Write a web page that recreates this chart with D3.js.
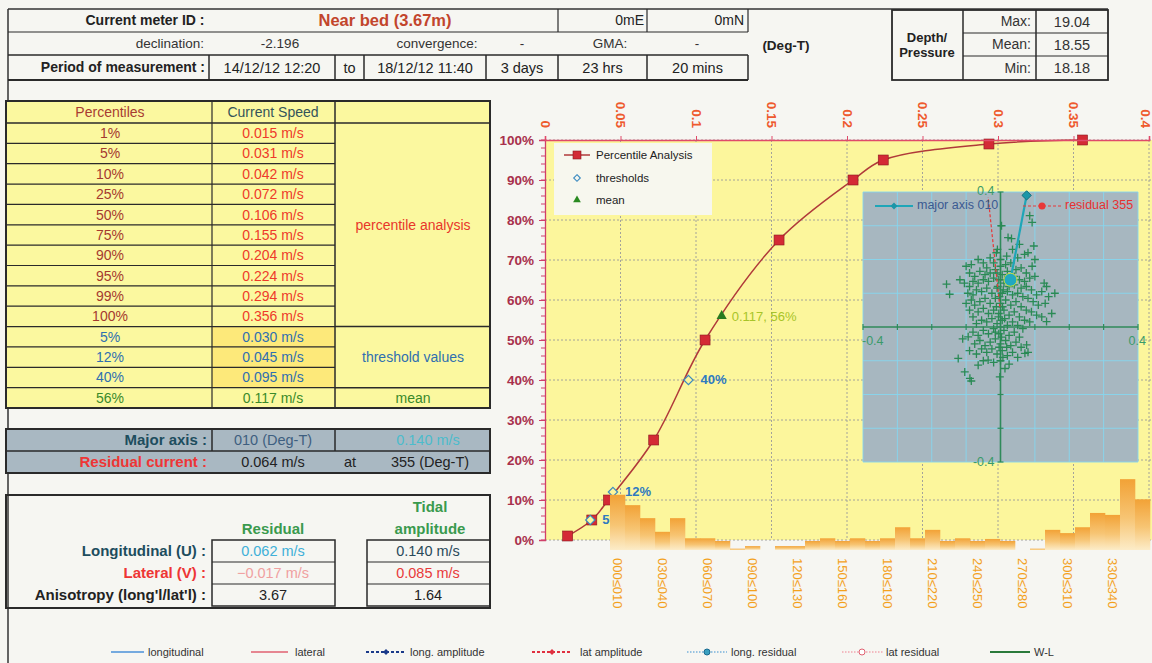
<!DOCTYPE html>
<html>
<head>
<meta charset="utf-8">
<script src="https://cdn.jsdelivr.net/npm/d3@7"></script>
<style>
  body { margin: 0; background: #f6f6f2; }
  svg { display: block; }
  text { font-family: "Liberation Sans", Arial, Helvetica, sans-serif; }
</style>
</head>
<body>
<svg id="c" width="1152" height="663"></svg>
<script>
// ---------------- data ----------------
const meterId = "Near bed (3.67m)";
const positionCells = ["0mE", "0mN"];
const declination = "-2.196";
const periodCells = ["14/12/12 12:20", "to", "18/12/12 11:40", "3 days", "23 hrs", "20 mins"];
const depthLabels = ["Max:", "Mean:", "Min:"];
const depthValues = [19.04, 18.55, 18.18];

const percentiles = [1, 5, 10, 25, 50, 75, 90, 95, 99, 100];
const percentileSpeeds = [0.015, 0.031, 0.042, 0.072, 0.106, 0.155, 0.204, 0.224, 0.294, 0.356];
const thresholdPct = [5, 12, 40];
const thresholdSpeeds = [0.030, 0.045, 0.095];
const meanPct = [56];
const meanSpeed = [0.117];

const majorAxisDir = "010";
const majorAxisAmp = 0.140;
const residualSpeed = 0.064;
const residualDir = "355";
const residualUV = [0.062, -0.017];
const tidalUV = [0.140, 0.085];
const anisotropy = [3.67, 1.64];

const speedTicks = [0, 0.05, 0.1, 0.15, 0.2, 0.25, 0.3, 0.35, 0.4];
const pctTicks = [0, 10, 20, 30, 40, 50, 60, 70, 80, 90, 100];

// share of records per 10-degree direction sector (%)
const directionShare = [8.5, 6.9, 4.9, 2.8, 4.9, 1.8, 1.8, 1.4, 0.2, 0.6, 0, 0.6,
                        0.6, 1.4, 1.8, 1.4, 1.8, 1.4, 1.8, 3.5, 1.8, 3.1, 1.4, 1.8,
                        1.4, 1.7, 1.4, 0, 0.2, 3.1, 2.6, 3.5, 5.7, 5.4, 10.9, 7.8];
const directionLabels = ["000\u2264010", "030\u2264040", "060\u2264070", "090\u2264100", "120\u2264130", "150\u2264160",
                         "180\u2264190", "210\u2264220", "240\u2264250", "270\u2264280", "300\u2264310", "330\u2264340"];

// east / north velocity components (m/s)
const scatterUV = [
  [0.085,0.33],[0.092,0.31],[0.003,0.30],[0.022,0.265],[0.032,0.262],[-0.009,0.23],[-0.012,0.22],[0.097,0.24],
  [0.08,0.22],[0.07,0.215],[0.10,0.20],[0.05,0.205],[0.035,0.23],[0.055,0.245],[0.018,0.21],[-0.03,0.205],[0.092,0.18],
  [-0.1,0.18],[-0.085,0.185],[-0.065,0.2],[-0.05,0.19],[-0.04,0.175],[-0.02,0.19],[0.0,0.18],[0.015,0.185],[0.03,0.19],
  [0.045,0.17],[0.06,0.175],[0.075,0.16],[0.10,0.15],[-0.118,0.14],[-0.157,0.127],[-0.148,0.097],[-0.09,0.16],
  [-0.075,0.15],[-0.06,0.165],[-0.045,0.155],[-0.03,0.16],[-0.015,0.17],[0.005,0.155],[0.02,0.165],[0.04,0.15],
  [0.055,0.14],[0.07,0.135],[0.085,0.145],[0.127,0.13],[0.134,0.12],[0.12,0.105],[0.158,0.10],[0.14,0.09],
  [-0.105,0.13],[-0.09,0.12],[-0.08,0.135],[-0.065,0.13],[-0.05,0.14],[-0.035,0.135],[-0.02,0.145],[-0.005,0.14],
  [0.01,0.13],[0.025,0.12],[0.04,0.125],[0.06,0.115],[0.075,0.12],[0.09,0.11],[0.105,0.095],[-0.095,0.1],
  [-0.08,0.095],[-0.07,0.11],[-0.055,0.105],[-0.04,0.115],[-0.025,0.1],[-0.01,0.115],[0.005,0.1],[0.02,0.105],
  [0.035,0.095],[0.05,0.1],[0.065,0.09],[0.08,0.085],[0.095,0.075],[0.11,0.065],[0.13,0.07],[0.149,0.04],[0.134,0.016],
  [-0.1,0.07],[-0.085,0.08],[-0.09,0.05],[-0.075,0.065],[-0.06,0.075],[-0.045,0.085],[-0.03,0.07],[-0.015,0.085],
  [0.0,0.07],[0.015,0.08],[0.03,0.065],[0.045,0.075],[0.06,0.06],[0.075,0.05],[0.09,0.045],[0.105,0.035],[0.12,0.03],
  [-0.08,0.03],[-0.065,0.045],[-0.05,0.055],[-0.035,0.04],[-0.02,0.05],[-0.005,0.04],[0.01,0.05],[0.025,0.035],
  [0.04,0.045],[0.055,0.03],[0.07,0.02],[0.085,0.015],[-0.07,0.01],[-0.055,0.02],[-0.04,0.015],[-0.025,0.025],
  [-0.01,0.01],[0.005,0.02],[0.02,0.005],[0.035,0.015],[0.05,0.005],[0.065,-0.005],
  [-0.094,-0.029],[-0.11,-0.035],[-0.08,-0.015],[-0.065,-0.025],[-0.05,-0.01],[-0.035,-0.02],[-0.02,-0.005],
  [-0.005,-0.02],[0.01,-0.01],[0.025,-0.025],[0.04,-0.015],[0.055,-0.03],[0.076,-0.053],[-0.075,-0.05],[-0.06,-0.04],
  [-0.045,-0.055],[-0.03,-0.045],[-0.015,-0.035],[0.0,-0.05],[0.015,-0.04],[0.03,-0.055],[0.045,-0.045],[0.06,-0.06],
  [0.071,-0.078],[0.08,-0.075],[-0.123,-0.093],[-0.09,-0.07],[-0.07,-0.08],[-0.055,-0.065],[-0.04,-0.075],
  [-0.025,-0.065],[-0.01,-0.08],[0.005,-0.07],[0.02,-0.085],[0.035,-0.075],[0.05,-0.09],[-0.065,-0.113],
  [-0.036,-0.098],[-0.02,-0.105],[0.0,-0.1],[0.013,-0.123],[-0.104,-0.133],[-0.089,-0.152],[-0.085,-0.16],
  [-0.002,-0.148],[-0.05,-0.1],[0.025,-0.11],
  [-0.008,0.12],[0.008,0.11],[-0.003,0.09],[0.006,0.06],[-0.006,0.03],[0.003,-0.03],[-0.004,-0.06],[0.007,-0.09],
  [0.0,0.2],[-0.01,0.16],[0.012,0.14],[-0.012,0.06],[0.012,0.025],[-0.015,-0.015],[0.018,-0.06]
];
const majorAxisLine = [[0.029, 0.14], [0.076, 0.39]];
const residualLine = [[-0.002, 0.06], [-0.036, 0.385]];

// ---------------- helpers ----------------
const svg = d3.select("#c");
const fmt3 = d3.format(".3f");
const ms = v => fmt3(v) + " m/s";

function txt(g, x, y, s, o = {}) {
  return g.append("text").attr("x", x).attr("y", y).attr("dy", "0.35em")
    .attr("text-anchor", o.anchor || "middle")
    .attr("font-size", o.size || 14)
    .attr("font-weight", o.bold ? "bold" : "normal")
    .attr("fill", o.color || "#222").text(s);
}
function box(g, x, y, w, h, fill, stroke, sw) {
  return g.append("rect").attr("x", x).attr("y", y).attr("width", w).attr("height", h)
    .attr("fill", fill || "none").attr("stroke", stroke || "none").attr("stroke-width", sw || 1);
}
function ln(g, x1, y1, x2, y2, stroke, sw, dash) {
  const l = g.append("line").attr("x1", x1).attr("y1", y1).attr("x2", x2).attr("y2", y2)
    .attr("stroke", stroke || "#222").attr("stroke-width", sw || 1.2);
  if (dash) l.attr("stroke-dasharray", dash);
  return l;
}
const diamond = s => d3.symbol(d3.symbolDiamond2, s)();

const defs = svg.append("defs");
const grad = defs.append("linearGradient").attr("id", "barGrad")
  .attr("x1", 0).attr("y1", 0).attr("x2", 0).attr("y2", 1);
grad.append("stop").attr("offset", "0%").attr("stop-color", "#f2a236");
grad.append("stop").attr("offset", "55%").attr("stop-color", "#f7c574");
grad.append("stop").attr("offset", "100%").attr("stop-color", "#fcecc8");

// ---------------- frame ----------------
const frame = svg.append("g");
ln(frame, 8, 9, 1108, 9, "#333", 1.5);
ln(frame, 8, 9, 8, 663, "#333", 1.5);

// ---------------- header table ----------------
const hdr = svg.append("g");
const B = "#2a2a2a";
ln(hdr, 8, 32, 748, 32, B, 1.2);
ln(hdr, 8, 55, 748, 55, B, 1.5);
ln(hdr, 8, 80, 748, 80, B, 2);
[558, 647, 748].forEach(x => ln(hdr, x, 9, x, 32, B, 1.2));
[209, 335, 364, 486, 558, 647, 748].forEach(x => ln(hdr, x, 55, x, 80, B, 1.5));

txt(hdr, 145, 20.5, "Current meter ID :", { bold: true });
txt(hdr, 385, 20.5, meterId, { bold: true, size: 16.5, color: "#c2452c" });
txt(hdr, 644, 20.5, positionCells[0], { anchor: "end" });
txt(hdr, 744, 20.5, positionCells[1], { anchor: "end" });

txt(hdr, 204, 43.5, "declination:", { anchor: "end", size: 13.5, color: "#333" });
txt(hdr, 280, 43.5, declination, { size: 13.5, color: "#333" });
txt(hdr, 437, 43.5, "convergence:", { size: 13.5, color: "#333" });
txt(hdr, 522, 43.5, "-", { size: 13.5, color: "#333" });
txt(hdr, 610, 43.5, "GMA:", { size: 13.5, color: "#333" });
txt(hdr, 697, 43.5, "-", { size: 13.5, color: "#333" });
txt(hdr, 786, 45, "(Deg-T)", { bold: true, size: 13.5 });

txt(hdr, 205, 67.5, "Period of measurement :", { anchor: "end", bold: true });
const periodEdges = [209, 335, 364, 486, 558, 647, 748];
periodCells.forEach((s, i) => txt(hdr, (periodEdges[i] + periodEdges[i + 1]) / 2, 67.5, s, { size: 14.5 }));

// depth / pressure box
const dep = svg.append("g");
box(dep, 892, 10, 216, 70, "none", B, 1.8);
ln(dep, 963, 10, 963, 80, B, 1.5);
ln(dep, 1036, 10, 1036, 80, B, 1.5);
ln(dep, 963, 33, 1108, 33, B, 1.2);
ln(dep, 963, 56, 1108, 56, B, 1.2);
txt(dep, 927, 37, "Depth/", { bold: true, size: 13 });
txt(dep, 927, 52, "Pressure", { bold: true, size: 13 });
depthLabels.forEach((s, i) => {
  const cy = [21.5, 44.5, 68][i];
  txt(dep, 1031, cy, s, { anchor: "end", size: 14, color: "#333" });
  txt(dep, 1072, cy, d3.format(".2f")(depthValues[i]), { size: 14.5, color: "#333" });
});

// ---------------- percentile table ----------------
const tab = svg.append("g");
const tx0 = 6, tc1 = 212, tc2 = 335, tx3 = 490, ttop = 101, thead = 123, rowH = (408 - 123) / 14;
const YEL = "#fbf89f", YEL2 = "#fde97a";
box(tab, tx0, ttop, tx3 - tx0, 408 - ttop, YEL);
const rowsAll = [];
percentiles.forEach((p, i) => rowsAll.push({ pct: p + "%", val: ms(percentileSpeeds[i]), kind: "p" }));
thresholdPct.forEach((p, i) => rowsAll.push({ pct: p + "%", val: ms(thresholdSpeeds[i]), kind: "t" }));
meanPct.forEach((p, i) => rowsAll.push({ pct: p + "%", val: ms(meanSpeed[i]), kind: "m" }));
rowsAll.forEach((r, i) => {
  const y0 = thead + i * rowH;
  if (r.kind === "t") box(tab, tc1, y0, tc2 - tc1, rowH, YEL2);
});
ln(tab, tx0, thead, tx3, thead, B, 1.5);
rowsAll.forEach((r, i) => { if (i > 0) ln(tab, tx0, thead + i * rowH, tc2, thead + i * rowH, B, 1.2); });
[10, 13].forEach(i => ln(tab, tc2, thead + i * rowH, tx3, thead + i * rowH, B, 1.5));
ln(tab, tc1, ttop, tc1, 408, B, 1.2);
ln(tab, tc2, ttop, tc2, 408, B, 1.5);
box(tab, tx0, ttop, tx3 - tx0, 408 - ttop, "none", B, 2);

txt(tab, 110, 112, "Percentiles", { color: "#a83c32" });
txt(tab, 273, 112, "Current Speed", { color: "#34545a" });
const kindColor = { p: ["#a53a2f", "#ee3a2a"], t: ["#2f6fb0", "#2f6fb0"], m: ["#3a8a2a", "#3a8a2a"] };
rowsAll.forEach((r, i) => {
  const cy = thead + (i + 0.5) * rowH;
  txt(tab, 110, cy, r.pct, { color: kindColor[r.kind][0] });
  txt(tab, 273, cy, r.val, { color: kindColor[r.kind][1] });
});
txt(tab, 413, thead + 5 * rowH, "percentile analysis", { color: "#e8362a" });
txt(tab, 413, thead + 11.5 * rowH, "threshold values", { color: "#2f6fb0" });
txt(tab, 413, thead + 13.5 * rowH, "mean", { color: "#3a8a2a" });

// ---------------- major axis / residual block ----------------
const mab = svg.append("g");
box(mab, 6, 429, 484, 44, "#a9b8c2");
ln(mab, 6, 451, 490, 451, B, 1.5);
ln(mab, 212, 429, 212, 451, B, 1.5);
ln(mab, 335, 429, 335, 451, B, 1.5);
box(mab, 6, 429, 484, 44, "none", B, 2);
txt(mab, 207, 440, "Major axis :", { anchor: "end", bold: true, size: 15, color: "#1d4d5e" });
txt(mab, 273, 440, majorAxisDir + " (Deg-T)", { size: 14.5, color: "#3e5f80" });
txt(mab, 428, 440, ms(majorAxisAmp), { size: 14.5, color: "#4cbccc" });
txt(mab, 207, 462, "Residual current :", { anchor: "end", bold: true, size: 15, color: "#ee3535" });
txt(mab, 273, 462, ms(residualSpeed), { size: 14.5 });
txt(mab, 350, 462, "at", { size: 14.5 });
txt(mab, 430, 462, residualDir + " (Deg-T)", { size: 14.5 });

// ---------------- residual / tidal table ----------------
const rt = svg.append("g");
box(rt, 6, 495, 484, 113, "none", B, 2);
const rtRows = [540, 562, 584, 606];
box(rt, 212, 540, 123, 66, "none", B, 1.5);
box(rt, 367, 540, 123, 66, "none", B, 1.5);
[562, 584].forEach(y => { ln(rt, 212, y, 335, y, B, 1.2); ln(rt, 367, y, 490, y, B, 1.2); });
txt(rt, 273, 529, "Residual", { bold: true, size: 15, color: "#3a9a4e" });
txt(rt, 430, 507, "Tidal", { bold: true, size: 15, color: "#3a9a4e" });
txt(rt, 430, 529, "amplitude", { bold: true, size: 15, color: "#3a9a4e" });
const rtLabels = [["Longitudinal (U) :", "#1d4d5e"], ["Lateral (V) :", "#ee3535"], ["Anisotropy (long'l/lat'l) :", "#222"]];
const resCells = [[ms(residualUV[0]), "#40b0d8"], [ms(residualUV[1]), "#f0a0a0"], [d3.format(".2f")(anisotropy[0]), "#222"]];
const tidCells = [[ms(tidalUV[0]), "#2a4a5a"], [ms(tidalUV[1]), "#e83a3a"], [d3.format(".2f")(anisotropy[1]), "#222"]];
rtLabels.forEach((l, i) => {
  const cy = (rtRows[i] + rtRows[i + 1]) / 2;
  txt(rt, 206, cy, l[0], { anchor: "end", bold: true, size: 15, color: l[1] });
  txt(rt, 273, cy, resCells[i][0], { size: 14.5, color: resCells[i][1] });
  txt(rt, 428, cy, tidCells[i][0], { size: 14.5, color: tidCells[i][1] });
});

// ---------------- cumulative speed chart ----------------
const x = d3.scaleLinear().domain([0, 0.4]).range([545, 1149]);
const y = d3.scaleLinear().domain([0, 100]).range([540, 140]);
const ch = svg.append("g");
box(ch, 545, 140, 607, 400, "#fcf69c");

// grid
const grid = ch.append("g").attr("stroke", "#9a9a9a").attr("stroke-width", 0.9).attr("stroke-dasharray", "2,2");
pctTicks.forEach(p => grid.append("line").attr("x1", 545).attr("x2", 1152).attr("y1", y(p)).attr("y2", y(p)));
speedTicks.slice(1).forEach(s => grid.append("line").attr("x1", x(s)).attr("x2", x(s)).attr("y1", 140).attr("y2", 540));

// legend box
const lg = ch.append("g");
box(lg, 554, 143, 158, 72, "#f7f7ee");
ln(lg, 564, 155, 590, 155, "#b03a3a", 1.5);
lg.append("rect").attr("x", 573).attr("y", 151).attr("width", 8).attr("height", 8).attr("fill", "#d22a35").attr("stroke", "#8a1a20").attr("stroke-width", 0.6);
txt(lg, 596, 155, "Percentile Analysis", { anchor: "start", size: 11.5, color: "#222" });
lg.append("path").attr("d", diamond(28)).attr("transform", "translate(577,178)")
  .attr("fill", "none").attr("stroke", "#3a8ac0").attr("stroke-width", 1.1);
txt(lg, 596, 178, "thresholds", { anchor: "start", size: 11.5, color: "#222" });
lg.append("path").attr("d", d3.symbol(d3.symbolTriangle, 26)()).attr("transform", "translate(577,200)").attr("fill", "#2a8a20");
txt(lg, 596, 200, "mean", { anchor: "start", size: 11.5, color: "#222" });

// percentile curve
const pts = percentileSpeeds.map((s, i) => [s, percentiles[i]]);
ch.append("path").datum(pts)
  .attr("d", d3.line().x(d => x(d[0])).y(d => y(d[1])).curve(d3.curveCatmullRom.alpha(0.5)))
  .attr("fill", "none").attr("stroke", "#b03a3a").attr("stroke-width", 1.5);
ch.selectAll(".pm").data(pts).join("rect").attr("class", "pm")
  .attr("x", d => x(d[0]) - 5).attr("y", d => y(d[1]) - 5).attr("width", 10).attr("height", 10)
  .attr("fill", "#d42a35").attr("stroke", "#8a1a20").attr("stroke-width", 0.6);

// thresholds
thresholdSpeeds.forEach((s, i) => {
  ch.append("path").attr("d", diamond(55))
    .attr("transform", `translate(${x(s)},${y(thresholdPct[i])})`)
    .attr("fill", "#fcf69c").attr("stroke", "#3a8ac0").attr("stroke-width", 1.2);
  txt(ch, x(s) + 12, y(thresholdPct[i]) - 1, thresholdPct[i] + "%", { anchor: "start", bold: true, size: 13, color: "#2f7ac0" });
});
// mean
meanSpeed.forEach((s, i) => {
  ch.append("path").attr("d", d3.symbol(d3.symbolTriangle, 45)())
    .attr("transform", `translate(${x(s)},${y(meanPct[i])})`).attr("fill", "#2a7a20");
  txt(ch, x(s) + 10, y(meanPct[i]), s + ", " + meanPct[i] + "%", { anchor: "start", size: 13, color: "#a8c428" });
});

// ---------------- current scatter inset ----------------
const ix = d3.scaleLinear().domain([-0.4, 0.4]).range([863, 1138]);
const iy = d3.scaleLinear().domain([-0.4, 0.4]).range([462, 192]);
const ins = ch.append("g");
box(ins, 863, 192, 275, 270, "#a7b7c0");
const iticks = d3.range(-0.4, 0.401, 0.1);
const ig = ins.append("g").attr("stroke", "#86d6ee").attr("stroke-width", 0.9);
iticks.forEach(t => {
  if (Math.abs(t) < 1e-9) return;
  ig.append("line").attr("x1", ix(t)).attr("x2", ix(t)).attr("y1", 192).attr("y2", 462);
  ig.append("line").attr("y1", iy(t)).attr("y2", iy(t)).attr("x1", 863).attr("x2", 1138);
});
const AX = "#2f8a5a";
ln(ins, ix(-0.4), iy(0), ix(0.4), iy(0), AX, 1.6);
ln(ins, ix(0), iy(-0.4), ix(0), iy(0.4), AX, 1.6);
iticks.forEach(t => {
  ln(ins, ix(t), iy(0) - 3, ix(t), iy(0) + 3, AX, 1.2);
  ln(ins, ix(0) - 3, iy(t), ix(0) + 3, iy(t), AX, 1.2);
});
ins.selectAll(".sp").data(scatterUV).join("path").attr("class", "sp")
  .attr("d", "M-4,0H4M0,-4V4")
  .attr("transform", d => `translate(${ix(d[0])},${iy(d[1])})`)
  .attr("stroke", "#2a8a55").attr("stroke-width", 1.3).attr("fill", "none");
// residual direction
ins.append("path").datum(residualLine)
  .attr("d", d3.line().x(d => ix(d[0])).y(d => iy(d[1])))
  .attr("stroke", "#e83838").attr("stroke-width", 1.2).attr("stroke-dasharray", "3,2").attr("fill", "none");
// major axis
ins.append("path").datum(majorAxisLine)
  .attr("d", d3.line().x(d => ix(d[0])).y(d => iy(d[1])))
  .attr("stroke", "#1ea6b8").attr("stroke-width", 2.2).attr("fill", "none");
ins.append("circle").attr("cx", ix(majorAxisLine[0][0])).attr("cy", iy(majorAxisLine[0][1])).attr("r", 6.5)
  .attr("fill", "#22a8c0").attr("stroke", "#c8e040").attr("stroke-width", 1);
ins.append("path").attr("d", diamond(55))
  .attr("transform", `translate(${ix(majorAxisLine[1][0])},${iy(majorAxisLine[1][1])})`)
  .attr("fill", "#1a96a8").attr("stroke", "#14707e").attr("stroke-width", 1);
// inset legend
ln(ins, 875, 206, 913, 206, "#1ea6b8", 2);
ins.append("path").attr("d", diamond(30)).attr("transform", "translate(894,206)").attr("fill", "#1a96a8");
txt(ins, 917, 205, "major axis " + majorAxisDir, { anchor: "start", size: 12.5, color: "#3a5a92" });
ln(ins, 1023, 206, 1062, 206, "#e83838", 1.2, "3,2");
ins.append("circle").attr("cx", 1042).attr("cy", 206).attr("r", 3.5).attr("fill", "#e83838");
txt(ins, 1065, 205, "residual " + residualDir, { anchor: "start", size: 12.5, color: "#e83030" });
// inset axis labels
txt(ins, ix(0) - 6, 191, "0.4", { anchor: "end", size: 12.5, color: "#3a9a6a" });
txt(ins, 862, iy(0) + 14, "-0.4", { anchor: "start", size: 12.5, color: "#3a9a6a" });
txt(ins, 1146, iy(0) + 14, "0.4", { anchor: "end", size: 12.5, color: "#3a9a6a" });
txt(ins, ix(0) - 6, 462, "-0.4", { anchor: "end", size: 12.5, color: "#3a9a6a" });

// ---------------- direction histogram ----------------
const xb = d3.scaleBand().domain(d3.range(36)).range([610, 1150]);
const yb = d3.scaleLinear().domain([0, 12]).range([550, 472]);
ch.selectAll(".db").data(directionShare).join("rect").attr("class", "db")
  .attr("x", (d, i) => xb(i)).attr("width", xb.bandwidth() + 0.3)
  .attr("y", d => yb(d)).attr("height", d => yb(0) - yb(d))
  .attr("fill", "url(#barGrad)");
directionLabels.forEach((s, k) => {
  const cx = xb(k * 3) + xb.bandwidth() / 2;
  ch.append("text").attr("transform", `translate(${cx},558) rotate(90)`)
    .attr("dy", "0.35em").attr("text-anchor", "start").attr("font-size", 13)
    .attr("fill", "#f3a11d").text(s);
});

// ---------------- axes ----------------
const yAxis = d3.axisLeft(y).tickValues(pctTicks).tickFormat(d => d + "%").tickSize(6).tickPadding(5);
const ya = ch.append("g").attr("transform", "translate(545,0)").call(yAxis);
ya.select(".domain").attr("stroke", "#d0406a").attr("stroke-width", 1.3);
ya.selectAll(".tick line").attr("stroke", "#d0406a");
ya.selectAll(".tick text").attr("fill", "#a8304c").attr("font-weight", "bold").attr("font-size", 13.5)
  .attr("font-family", '"Liberation Sans", Arial, sans-serif');
d3.range(0, 101, 2).forEach(p => ln(ch, 541, y(p), 545, y(p), "#d0406a", 1));

const xAxis = d3.axisTop(x).tickValues(speedTicks).tickFormat(d => String(d)).tickSize(4);
const xa = ch.append("g").attr("transform", "translate(0,140)").call(xAxis);
xa.select(".domain").attr("stroke", "#e04a6a").attr("stroke-width", 1.6);
xa.selectAll(".tick line").attr("stroke", "#e04a6a");
xa.selectAll(".tick text").attr("x", 0).attr("y", 0).attr("dy", "0.35em")
  .attr("transform", d => `translate(${d === 0.4 ? -4 : 0},-12) rotate(90)`).attr("text-anchor", "end")
  .attr("fill", "#ee5a2e").attr("font-weight", "bold").attr("font-size", 13.5)
  .attr("font-family", '"Liberation Sans", Arial, sans-serif');

// ---------------- bottom legend ----------------
const bl = svg.append("g");
const LY = 652;
ln(bl, 111, LY, 144, LY, "#4a90d9", 1.5);
txt(bl, 148, LY, "longitudinal", { anchor: "start", size: 11, color: "#333" });
ln(bl, 251, LY, 288, LY, "#e06070", 1.5);
txt(bl, 295, LY, "lateral", { anchor: "start", size: 11, color: "#333" });
ln(bl, 366, LY, 406, LY, "#1a3a8a", 1.8, "3,2");
bl.append("path").attr("d", diamond(22)).attr("transform", `translate(386,${LY})`).attr("fill", "#1a3a8a");
txt(bl, 410, LY, "long. amplitude", { anchor: "start", size: 11, color: "#333" });
ln(bl, 532, LY, 572, LY, "#e03040", 1.8, "3,2");
bl.append("path").attr("d", diamond(22)).attr("transform", `translate(552,${LY})`).attr("fill", "#e03040");
txt(bl, 580, LY, "lat amplitude", { anchor: "start", size: 11, color: "#333" });
ln(bl, 687, LY, 727, LY, "#3a90d0", 1.2, "1.5,1.5");
bl.append("circle").attr("cx", 707).attr("cy", LY).attr("r", 3).attr("fill", "#3aa0c0").attr("stroke", "#1a6a90");
txt(bl, 731, LY, "long. residual", { anchor: "start", size: 11, color: "#333" });
ln(bl, 842, LY, 883, LY, "#f08090", 1.2, "1.5,1.5");
bl.append("circle").attr("cx", 862).attr("cy", LY).attr("r", 3).attr("fill", "#fff").attr("stroke", "#e06070");
txt(bl, 886, LY, "lat residual", { anchor: "start", size: 11, color: "#333" });
ln(bl, 990, LY, 1030, LY, "#2a7a3a", 2);
txt(bl, 1034, LY, "W-L", { anchor: "start", size: 11, color: "#333" });
</script>
</body>
</html>
